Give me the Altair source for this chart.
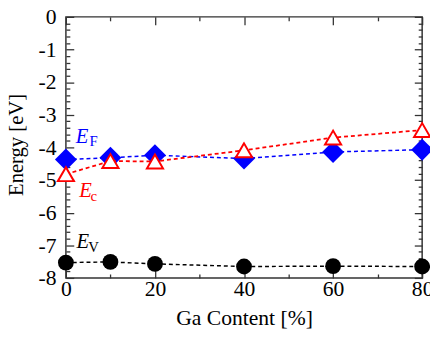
import altair as alt
import pandas as pd

# ---- data ----
ga = [0, 10, 20, 40, 60, 80]
e_f = [-4.37, -4.32, -4.24, -4.34, -4.14, -4.07]
e_c = [-4.82, -4.42, -4.43, -4.09, -3.70, -3.47]
e_v = [-7.53, -7.51, -7.57, -7.65, -7.64, -7.65]

x_major = [0, 20, 40, 60, 80]
x_minor = [10, 30, 50, 70]
y_major = [0, -1, -2, -3, -4, -5, -6, -7, -8]
y_minor = [round(-k * 0.2, 1) for k in range(41) if k % 5]

# annotation labels (E with subscript)
lab_main = ["E", "E", "E"]
lab_sub = ["F", "c", "V"]
lab_color = ["#0000ff", "#ff0000", "#000000"]
lab_x = [2.2, 3.0, 2.4]
lab_y = [-3.87, -5.51, -7.09]
sub_x = [5.3, 5.5, 5.0]
sub_y = [-3.96, -5.63, -7.22]

FONT = "Liberation Serif"
FRAME = "#333333"

df_f = pd.DataFrame({"ga": ga, "e": e_f})
df_c = pd.DataFrame({"ga": ga, "e": e_c})
df_v = pd.DataFrame({"ga": ga, "e": e_v})
df_lab = pd.DataFrame({"main": lab_main, "sub": lab_sub, "color": lab_color,
                       "x": lab_x, "y": lab_y, "sx": sub_x, "sy": sub_y})

xscale = alt.Scale(domain=[0, 80], nice=False, zero=False)
yscale = alt.Scale(domain=[-8, 0], nice=False, zero=False)


def X(axis=None, field="ga"):
    return alt.X(f"{field}:Q", scale=xscale, axis=axis)


def Y(axis=None, field="e"):
    return alt.Y(f"{field}:Q", scale=yscale, axis=axis)


dash = [4, 3]

line_f = alt.Chart(df_f).mark_line(color="#0000ff", strokeDash=dash, strokeWidth=1.5).encode(x=X(), y=Y())
pts_f = alt.Chart(df_f).mark_point(shape="diamond", filled=True, color="#0000ff", size=500, opacity=1).encode(x=X(), y=Y())
line_c = alt.Chart(df_c).mark_line(color="#ff0000", strokeDash=dash, strokeWidth=1.8).encode(x=X(), y=Y())
pts_c = alt.Chart(df_c).mark_point(shape="triangle-up", filled=False, fill="white", stroke="#ff0000",
                                   strokeWidth=2, size=270, opacity=1).encode(x=X(), y=Y())
line_v = alt.Chart(df_v).mark_line(color="#000000", strokeDash=dash, strokeWidth=1.5).encode(x=X(), y=Y())
pts_v = alt.Chart(df_v).mark_point(shape="circle", filled=True, color="#000000", size=260, opacity=1).encode(x=X(), y=Y())

# axes carrying labels and titles
label_axes = alt.Chart(df_v).mark_point(opacity=0).encode(
    x=X(alt.Axis(orient="bottom", values=x_major, ticks=False, tickSize=0, domain=False, grid=False,
                 labelPadding=1, labelFlush=False, labelOverlap=False, labelFont=FONT, labelFontSize=22,
                 labelColor="black", labelExpr="'' + datum.value",
                 title="Ga Content [%]", titleFont=FONT, titleFontSize=22,
                 titleFontWeight="normal", titleColor="black", titleBaseline="alphabetic", titleY=47)),
    y=Y(alt.Axis(orient="left", values=y_major, ticks=False, tickSize=0, domain=False, grid=False,
                 labelPadding=10, labelFlush=False, labelOverlap=False, labelFont=FONT, labelFontSize=22,
                 labelColor="black", labelBaseline="middle", labelExpr="'' + datum.value",
                 title="Energy [eV]", titleFont=FONT, titleFontSize=21, titleFontWeight="normal",
                 titleColor="black", titleBaseline="alphabetic", titleX=-44, titleY=130, titleAngle=270)),
)


def tick_layer(xorient, yorient, xvals, yvals, size):
    common = dict(labels=False, domain=False, grid=False, title=None, tickSize=size, offset=-size,
                  tickColor=FRAME, tickWidth=1.3)
    return alt.Chart(df_v).mark_point(opacity=0).encode(
        x=X(alt.Axis(orient=xorient, values=xvals, **common)),
        y=Y(alt.Axis(orient=yorient, values=yvals, **common)),
    )


ticks = [
    tick_layer("bottom", "left", x_major, y_major, 8),
    tick_layer("bottom", "left", x_minor, y_minor, 4),
    tick_layer("top", "right", x_major, y_major, 8),
    tick_layer("top", "right", x_minor, y_minor, 4),
]

txt_main = alt.Chart(df_lab).mark_text(font=FONT, fontSize=21, fontStyle="italic", align="left",
                                       baseline="alphabetic").encode(
    x=X(field="x"), y=Y(field="y"), text="main:N", color=alt.Color("color:N", scale=None))
txt_sub = alt.Chart(df_lab).mark_text(font=FONT, fontSize=15, align="left", baseline="alphabetic").encode(
    x=X(field="sx"), y=Y(field="sy"), text="sub:N", color=alt.Color("color:N", scale=None))

chart = alt.layer(
    label_axes, *ticks,
    line_f, pts_f, line_c, pts_c, line_v, pts_v,
    txt_main, txt_sub,
).resolve_axis(x="independent", y="independent").properties(
    width=363, height=266,
    autosize=alt.AutoSizeParams(type="none"),
    padding={"left": 59, "top": 6, "right": 8, "bottom": 49},
).configure_view(stroke=FRAME, strokeWidth=1.5)

chart.save("out.html", embed_options={"renderer": "svg", "actions": False})
